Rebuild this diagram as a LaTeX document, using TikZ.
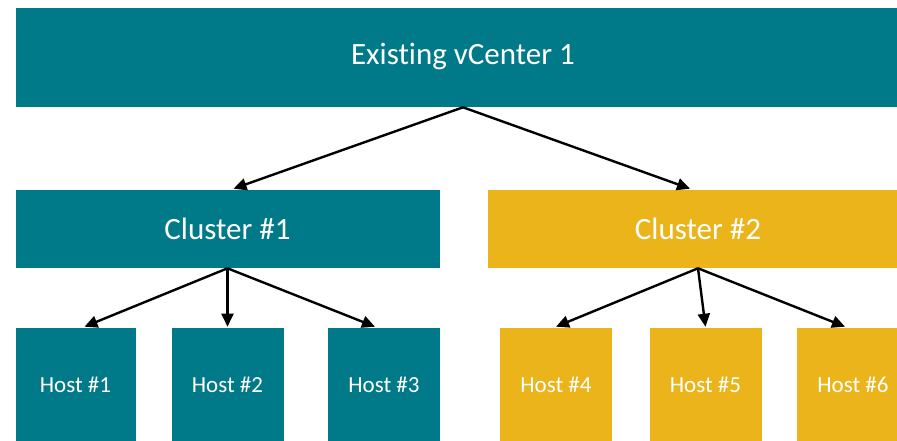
\documentclass[tikz,border=0pt]{standalone}
\usepackage{fontspec}
\setmainfont{Carlito}[Ligatures=NoCommon]
\usetikzlibrary{arrows.meta}
\definecolor{vteal}{RGB}{0,122,137}
\definecolor{vgold}{RGB}{235,180,26}

\begin{document}
\begin{tikzpicture}[x=1pt, y=-1pt,
    box/.style={fill=#1, draw=white, line width=0.6pt, inner sep=0pt, text=white},
    bigbox/.style={box=#1, font=\fontsize{31}{37}\selectfont},
    hostbox/.style={box=#1, minimum width=113pt, minimum height=160pt,
      font=\fontsize{23}{28}\selectfont},
    link/.style={-{Triangle[length=13pt,width=12pt]}, line width=2.4pt}]
  \useasboundingbox (0,0) rectangle (897,441);
  \clip (0,0) rectangle (897,441);
  \node [bigbox=vteal, minimum width=896pt, minimum height=100pt] (vc) at (463,57) {Existing vCenter 1};
  \node [bigbox=vteal, minimum width=425pt, minimum height=79pt] (c1) at (227.5,228.5) {Cluster \#1};
  \node [bigbox=vgold, minimum width=422pt, minimum height=79pt] (c2) at (698,228.5) {Cluster \#2};
  \node [hostbox=vteal, minimum width=121pt] (h1) at (75.5,407) {};
  \node [hostbox=vteal] (h2) at (227.5,407) {};
  \node [hostbox=vteal] (h3) at (384,407) {};
  \node [hostbox=vgold] (h4) at (556,407) {};
  \node [hostbox=vgold] (h5) at (705.5,407) {};
  \node [hostbox=vgold] (h6) at (853,407) {};
  % labels sit higher than the box centres, the boxes run off the page
  \foreach \h/\t in {h1/1, h2/2, h3/3, h4/4, h5/5, h6/6}
    \node [text=white, font=\fontsize{23}{28}\selectfont] at ([yshift=22pt]\h.center) {Host \#\t};
  \draw [link] (vc.south) -- ([xshift=6pt]c1.north);
  \draw [link] (vc.south) -- ([xshift=-8pt]c2.north);
  \draw [link] (c1.south) -- ([xshift=9pt]h1.north);
  \draw [link] (c1.south) -- (h2.north);
  \draw [link] (c1.south) -- ([xshift=-9pt]h3.north);
  \draw [link] (c2.south) -- (h4.north);
  \draw [link] (c2.south) -- (h5.north);
  \draw [link] (c2.south) -- ([xshift=-8pt]h6.north);
\end{tikzpicture}
\end{document}
